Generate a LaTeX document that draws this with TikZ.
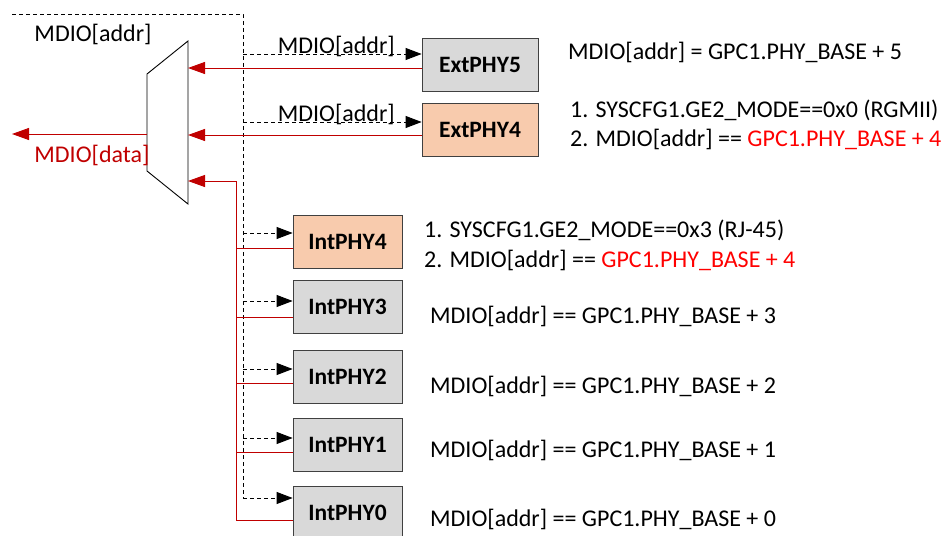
\documentclass[tikz,border=0pt]{standalone}
\usepackage{fontspec}
\setmainfont{Carlito}
\usepackage{xcolor}
\usetikzlibrary{calc,positioning,arrows.meta}
\definecolor{phyGray}{HTML}{D9D9D9}
\definecolor{phyOrange}{HTML}{F8CBAD}
\definecolor{phyEdge}{HTML}{404040}
\definecolor{dataRed}{HTML}{C00000}
\definecolor{baseRed}{HTML}{FF0000}

\begin{document}
\begin{tikzpicture}[
  x=1pt, y=-1pt,
  every node/.style={font=\fontsize{24}{29.5}\selectfont},
  phy/.style={
    rectangle, draw=phyEdge, fill=#1, line width=0.8pt,
    minimum height=53pt, inner sep=0pt,
    font=\fontsize{23.5}{25}\selectfont\bfseries
  },
  desc/.style={anchor=west, inner sep=0pt, align=left},
  addr/.style={black, line width=0.9pt, dash pattern=on 4pt off 3pt},
  addrarr/.style={addr, -{Triangle[length=16pt,width=12pt]}},
  data/.style={dataRed, line width=1pt},
  dataarr/.style={data, -{Triangle[length=17pt,width=12pt]}},
  sig/.style={inner sep=1pt},
]
\useasboundingbox (0,0) rectangle (941,535);

% === Mux ===
\coordinate (muxTL) at (147,74);
\coordinate (muxTR) at (188,41);
\coordinate (muxBR) at (188,204);
\coordinate (muxBL) at (147,171);
\draw[line width=0.9pt] (muxTL) -- (muxTR) -- (muxBR) -- (muxBL) -- cycle;
\node[sig] (muxaddr) at (93,34) {MDIO[addr]};

% output towards the host
\coordinate (dataL) at (147,134);
\coordinate (dataout) at (12,134);
\draw[dataarr] (dataL) -- (dataout);
\node[sig, text=dataRed] (muxdata) at (92,155) {MDIO[data]};

% === External PHYs ===
\node[phy=phyGray, minimum width=116pt] (ext5) at (480,64.5) {ExtPHY5};
\node[phy=phyOrange, minimum width=116pt] (ext4) at (480,129.5) {ExtPHY4};

% === Internal PHYs ===
\node[phy=phyOrange, minimum width=109pt] (int4) at (347.5,241.5) {IntPHY4};
\node[phy=phyGray, minimum width=109pt] (int3) at (347.5,307) {IntPHY3};
\node[phy=phyGray, minimum width=109pt] (int2) at (347.5,377) {IntPHY2};
\node[phy=phyGray, minimum width=109pt] (int1) at (347.5,444.5) {IntPHY1};
\node[phy=phyGray, minimum width=109pt] (int0) at (347.5,512.5) {IntPHY0};

% === Address bus (dashed) ===
\coordinate (busstart) at (12,14);
\coordinate (bustop) at (243,14);
\coordinate (busend) at (243,498);
\draw[addr] (busstart) -- (bustop) -- (busend);
\draw[addrarr] (bustop |- 0,54) -- (ext5.west |- 0,54)
  node[sig, midway, above=-4pt, xshift=4pt] (ext5addr) {MDIO[addr]};
\draw[addrarr] (bustop |- 0,122) -- (ext4.west |- 0,122)
  node[sig, midway, above=-4pt, xshift=4pt] (ext4addr) {MDIO[addr]};
\draw[addrarr] (bustop |- 0,233) -- (int4.west |- 0,233);
\draw[addrarr] (bustop |- 0,301) -- (int3.west |- 0,301);
\draw[addrarr] (bustop |- 0,369) -- (int2.west |- 0,369);
\draw[addrarr] (bustop |- 0,438) -- (int1.west |- 0,438);
\draw[addrarr] (busend) -- (int0.west |- busend);

% === Data lines (red) ===
\draw[dataarr] (ext5.west |- 0,68) -- (muxTR |- 0,68);
\draw[dataarr] (ext4.west |- 0,135) -- (muxTR |- 0,135);
\coordinate (intbustop) at (236,181);
\coordinate (intbusend) at (236,520);
\draw[dataarr] (intbusend) -- (intbustop) -- (muxTR |- intbustop);
\draw[data] (int4.west |- 0,248) -- (intbusend |- 0,248);
\draw[data] (int3.west |- 0,317) -- (intbusend |- 0,317);
\draw[data] (int2.west |- 0,383) -- (intbusend |- 0,383);
\draw[data] (int1.west |- 0,452) -- (intbusend |- 0,452);
\draw[data] (int0.west |- intbusend) -- (intbusend);

% === Address conditions ===
\node[desc] (ext5txt) at (568,52) {MDIO[addr] = GPC1.PHY\_BASE + 5};
\node[desc] (ext4txt) at (570,125) {1. SYSCFG1.GE2\_MODE==0x0 (RGMII)\\2. MDIO[addr] == \textcolor{baseRed}{GPC1.PHY\_BASE + 4}};
\node[desc] (int4txt) at (424,245.5) {1. SYSCFG1.GE2\_MODE==0x3 (RJ-45)\\2. MDIO[addr] == \textcolor{baseRed}{GPC1.PHY\_BASE + 4}};
\node[desc] (int3txt) at (430,316) {MDIO[addr] == GPC1.PHY\_BASE + 3};
\node[desc] (int2txt) at (430,386) {MDIO[addr] == GPC1.PHY\_BASE + 2};
\node[desc] (int1txt) at (430,450) {MDIO[addr] == GPC1.PHY\_BASE + 1};
\node[desc] (int0txt) at (430,519) {MDIO[addr] == GPC1.PHY\_BASE + 0};

\end{tikzpicture}
\end{document}
